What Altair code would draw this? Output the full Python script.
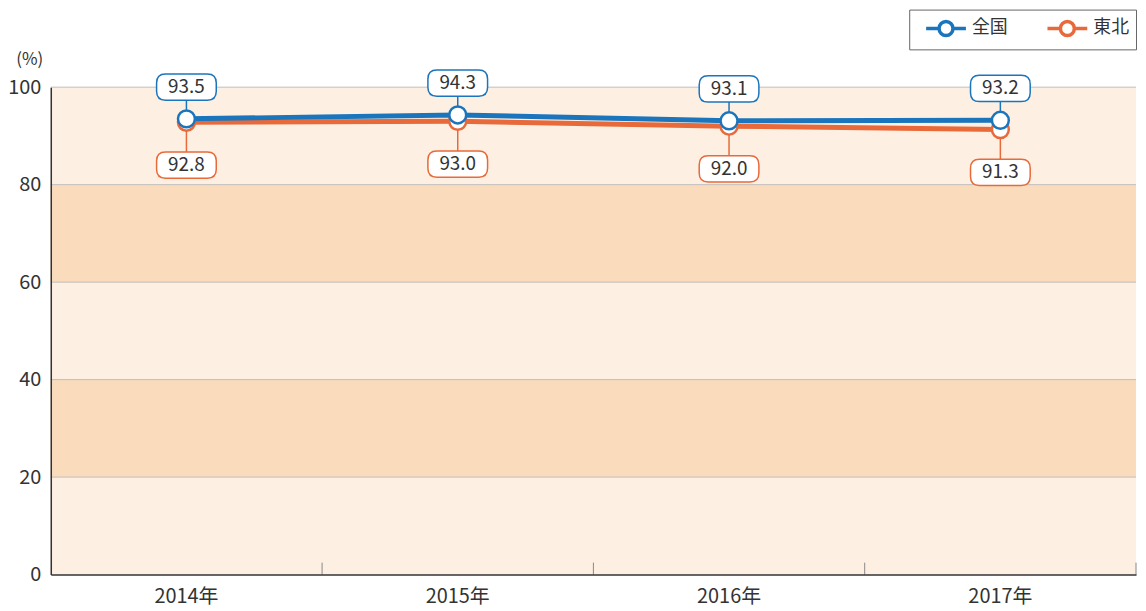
import altair as alt
import pandas as pd

# ---- data ----
years = ["2014年", "2015年", "2016年", "2017年"]
series_names = ["全国", "東北"]
zenkoku = [93.5, 94.3, 93.1, 93.2]
tohoku = [92.8, 93.0, 92.0, 91.3]
colors = ["#1b75bc", "#e8693a"]
y_ticks = [0, 20, 40, 60, 80, 100]
grid_vals = [20, 40, 60, 80, 100]
band_lo = [20, 60]
band_hi = [40, 80]

FONT = "Noto Sans CJK JP"
TXT = "#333333"
H = 490

df = pd.DataFrame({
    "year": years * 2,
    "series": [series_names[0]] * 4 + [series_names[1]] * 4,
    "value": zenkoku + tohoku,
})
df["label"] = [f"{v:.1f}" for v in df["value"]]

bands = pd.DataFrame({"lo": band_lo, "hi": band_hi})
grid = pd.DataFrame({"g": grid_vals})
edges = pd.DataFrame({"year": years})

xs = alt.Scale(domain=years, paddingInner=0, paddingOuter=0)
ys = alt.Scale(domain=[0, 100], nice=False)
cs = alt.Scale(domain=series_names, range=colors)

x_axis = alt.Axis(labelFontSize=20, labelFont=FONT, labelColor=TXT, ticks=False, tickSize=0,
                  labelPadding=12, domainColor=TXT, domainWidth=1.5, labelAngle=0,
                  grid=False, zindex=1)
y_axis = alt.Axis(values=y_ticks, grid=False, ticks=False, tickSize=0, labelPadding=10,
                  labelFontSize=20, labelFont=FONT, labelColor=TXT, domainColor=TXT,
                  domainWidth=1.5, titleAngle=0, titleAlign="right", titleX=-8, titleY=-23,
                  titleBaseline="alphabetic", titleFontSize=17, titleFontWeight="normal",
                  titleFont=FONT, titleColor=TXT, zindex=1)


def X(**kw):
    return alt.X("year:N", scale=xs, axis=x_axis, title=None, sort=years, **kw)


def Y(field):
    return alt.Y(field, scale=ys, axis=y_axis, title="(%)")


BOX = ("M-0.70,-0.44 L0.70,-0.44 Q1,-0.44 1,-0.14 L1,0.14 Q1,0.44 0.70,0.44 "
       "L-0.70,0.44 Q-1,0.44 -1,0.14 L-1,-0.14 Q-1,-0.44 -0.70,-0.44 Z")
LEG = ("M-0.2,0 L1.1,0 M2.5,0 L3.8,0 "
       "M1.1,0 C1.1,-0.3866 1.4134,-0.7 1.8,-0.7 C2.1866,-0.7 2.5,-0.3866 2.5,0 "
       "C2.5,0.3866 2.1866,0.7 1.8,0.7 C1.4134,0.7 1.1,0.3866 1.1,0 Z")

bg = alt.Chart(bands).mark_rect(color="#fadcbd").encode(y=Y("lo:Q"), y2="hi:Q")
gridl = alt.Chart(grid).mark_rule(color="#bdbdbd", strokeWidth=1).encode(y=Y("g:Q"))
ticks = alt.Chart(edges).mark_rule(color="#888888", strokeWidth=1).encode(
    x=X(bandPosition=1), y=alt.value(H - 12), y2=alt.value(H))

legend = alt.Legend(title=None, orient="none", legendX=863, legendY=-78, direction="horizontal",
                    symbolType=LEG, symbolSize=400, symbolStrokeWidth=3.5,
                    symbolFillColor="white", labelFont=FONT, labelFontSize=18, labelColor=TXT,
                    labelOffset=32, columnPadding=30, padding=7, strokeColor="#666666",
                    fillColor="white", symbolOpacity=1)

layers = [bg, gridl, ticks]

order = [series_names[1], series_names[0]]  # draw 東北 first, 全国 on top
for s in order:
    d = df[df["series"] == s]
    layers.append(alt.Chart(d).mark_line(strokeWidth=5).encode(
        x=X(), y=Y("value:Q"), color=alt.Color("series:N", scale=cs, legend=legend)))
for s in order:
    d = df[df["series"] == s]
    layers.append(alt.Chart(d).mark_point(filled=True, fill="white", size=289, strokeWidth=2.5,
                                          opacity=1).encode(
        x=X(), y=Y("value:Q"), stroke=alt.Stroke("series:N", scale=cs, legend=None)))

offsets = {series_names[0]: -32, series_names[1]: 43}
for s in order:
    d = df[df["series"] == s]
    off = offsets[s]
    if off < 0:
        r1, r2 = off + 13, -8
    else:
        r1, r2 = 8, off - 13
    layers.append(alt.Chart(d).mark_rule(strokeWidth=1.5, yOffset=r1, y2Offset=r2).encode(
        x=X(), y=Y("value:Q"), y2="value:Q",
        stroke=alt.Stroke("series:N", scale=cs, legend=None)))
    layers.append(alt.Chart(d).mark_point(shape=BOX, size=3600, filled=True, fill="white",
                                          strokeWidth=1.5, opacity=1, yOffset=off).encode(
        x=X(), y=Y("value:Q"), stroke=alt.Stroke("series:N", scale=cs, legend=None)))
    layers.append(alt.Chart(d).mark_text(font=FONT, fontSize=19, color=TXT, dy=off,
                                         baseline="middle").encode(
        x=X(), y=Y("value:Q"), text="label:N"))

chart = alt.layer(*layers).properties(
    width=1091, height=H,
    padding={"left": 43, "top": 78, "right": 2, "bottom": 33},
    autosize=alt.AutoSizeParams(type="none"),
    background="white",
).configure_view(stroke=None, fill="#fdf0e2")

chart.save("out.html", embed_options={"renderer": "svg", "actions": False})
